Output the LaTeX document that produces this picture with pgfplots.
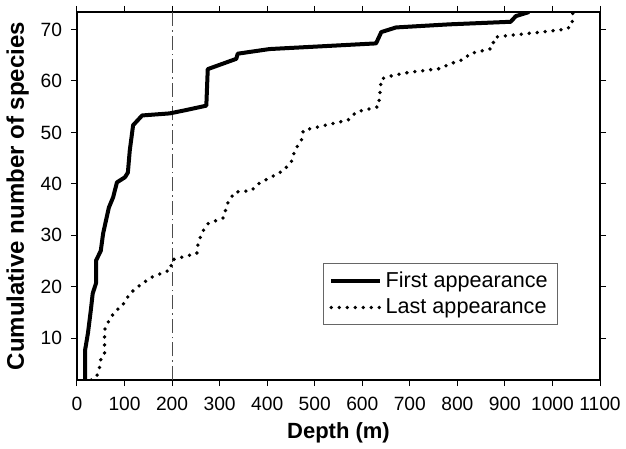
\documentclass[border=0pt]{standalone}
\usepackage{pgfplots}
\pgfplotsset{compat=1.18}
\usepackage{fontspec}
\setmainfont{Liberation Sans}

\begin{document}
\begin{tikzpicture}[x=1pt,y=1pt]
\begin{axis}[
    scale only axis,
    width=261.5pt, height=184pt,
    xmin=0, xmax=1100, ymin=1.9, ymax=73.4,
    xtick={0,100,...,1100},
    ytick={10,20,...,70},
    tick align=outside,
    major tick length=3pt,
    axis line style={line width=0.6pt},
    tick style={line width=0.5pt, black},
    /pgf/number format/assume math mode=true,
    /pgf/number format/1000 sep={},
    tick label style={font=\fontsize{9.6}{11}\selectfont},
    xticklabel style={yshift=-2pt},
    yticklabel style={xshift=-1pt},
    xlabel={\textbf{Depth (m)}},
    ylabel={\textbf{Cumulative number of species}},
    xlabel style={font=\fontsize{11}{13}\selectfont, yshift=1pt},
    ylabel style={font=\fontsize{12}{14}\selectfont, yshift=-1pt},
    legend style={at={(0.92,0.15)}, anchor=south east, draw=black!60,
        line width=0.4pt, font=\fontsize{10.8}{13}\selectfont,
        inner xsep=3pt, inner ysep=2pt, row sep=0pt},
    legend cell align=left,
    legend image code/.code={\draw[#1] (0cm,0cm) -- (0.85cm,0cm);},
]
% dashed reference line at 200 m
\addplot[black!70, line width=0.5pt, dash pattern=on 7pt off 2pt on 0.8pt off 2pt, forget plot]
    coordinates {(200,1.9) (200,73.4)};

\addplot[black, line width=2pt, line join=round] coordinates {
    (17,1.9) (17,7.7) (23,11) (29,15.4) (33,18.7) (40,20.7) (40,25.1)
    (50,27) (55,30.4) (67,35.4) (76,37.4) (84,40.3) (101,41.3) (107,42.2)
    (111,46.5) (118,51.4) (137,53.3) (195,53.7) (227,54.3) (272,55.2)
    (275,62.3) (335,64.3) (338,65.3) (405,66.2) (629,67.3) (640,69.5)
    (671,70.4) (783,71) (912,71.5) (923,72.6) (951,73.4)
};
\addlegendentry{First appearance}

\addplot[black, line width=1.9pt, line cap=round, dash pattern=on 0pt off 4pt] coordinates {
    (30,1.9) (41,2.5) (48,4.5) (49,5.7) (58,6.8) (58,11.6) (62,12.6)
    (73,14.3) (83,15.5) (94,16.1) (104,17.7) (115,19) (136,20.6) (160,22)
    (185,22.9) (197,23.3) (199,25.2) (210,25.5) (252,26.5) (255,28.7)
    (266,31) (276,32.3) (308,33.4) (311,34.5) (318,36.5) (332,38.4)
    (367,38.7) (381,40) (416,41.7) (434,42.6) (451,44.3) (458,46.5)
    (472,48.5) (476,50.4) (490,50.7) (570,52.4) (588,54) (634,55)
    (637,57.5) (640,60.4) (665,61.1) (700,61.7) (763,62.4) (784,63.3)
    (816,64.3) (826,65.3) (872,66.3) (879,68.5) (904,68.8) (977,69.5)
    (1030,70.1) (1041,70.8) (1043,73.4)
};
\addlegendentry{Last appearance}

\coordinate (sw) at (rel axis cs:0,0);
\coordinate (ne) at (rel axis cs:1,1);
\end{axis}
\pgfresetboundingbox
\path ([shift={(-38.5pt,-34.5pt)}]sw) rectangle ([shift={(13pt,6pt)}]ne);
\end{tikzpicture}
\end{document}
